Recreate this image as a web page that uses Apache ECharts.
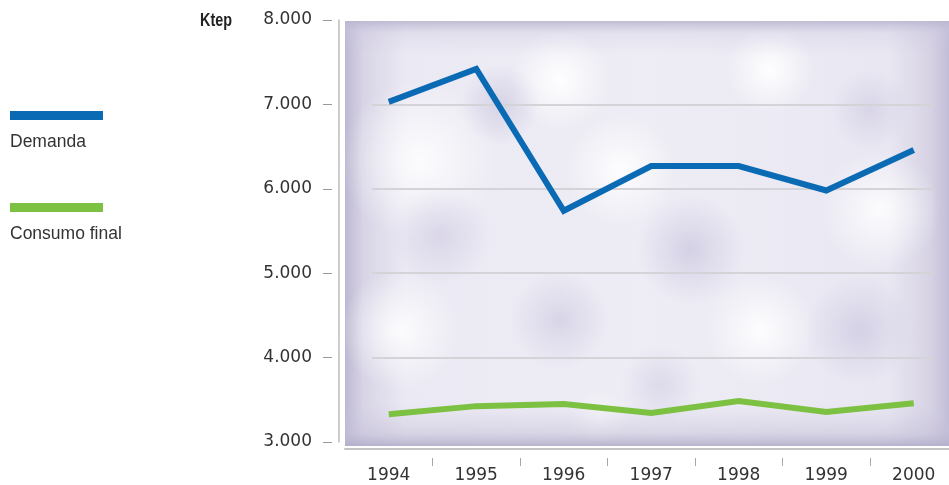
<!DOCTYPE html>
<html>
<head>
<meta charset="utf-8">
<script src="https://cdn.jsdelivr.net/npm/echarts@6/dist/echarts.min.js"></script>
<style>
html,body{margin:0;padding:0;background:#fff;}
#c{width:949px;height:485px;}
</style>
</head>
<body>
<div id="c"></div>
<script>
var years = ['1994','1995','1996','1997','1998','1999','2000'];
var demanda = [7030, 7420, 5740, 6270, 6270, 5980, 6460];
var consumoFinal = [3330, 3425, 3450, 3345, 3485, 3355, 3460];
var yTicks = [3000, 4000, 5000, 6000, 7000, 8000];
var seriesNames = ['Demanda', 'Consumo final'];
var seriesColors = ['#0b6ab4', '#7cc142'];
var unitLabel = 'Ktep';

var chart = echarts.init(document.getElementById('c'), null, {renderer: 'canvas'});
var axisFont = '"DejaVu Sans", sans-serif';
var legendFont = '"Liberation Sans", Arial, sans-serif';

function blob(cx, cy, rx, ry, rgb, a) {
  return {
    type: 'ellipse', z: -10, silent: true,
    shape: {cx: cx, cy: cy, rx: rx, ry: ry},
    style: {fill: new echarts.graphic.RadialGradient(0.5, 0.5, 0.5, [
      {offset: 0, color: 'rgba(' + rgb + ',' + a + ')'},
      {offset: 1, color: 'rgba(' + rgb + ',0)'}
    ])}
  };
}
var lav = '200,194,222', wh = '255,255,255';
var bg = [
  {type: 'rect', z: -12, silent: true, shape: {x: 345, y: 21, width: 604, height: 425},
   style: {fill: new echarts.graphic.LinearGradient(0, 0, 1, 0, [
     {offset: 0, color: '#bdb8d2'}, {offset: 0.03, color: '#d8d4e6'},
     {offset: 0.1, color: '#ebe9f3'}, {offset: 0.5, color: '#eeedf5'},
     {offset: 0.9, color: '#e9e7f2'}, {offset: 0.97, color: '#d6d2e4'}, {offset: 1, color: '#c2bdd6'}])}},
  blob(560, 80, 100, 50, wh, 0.95),
  blob(770, 70, 90, 45, wh, 0.95),
  blob(420, 160, 80, 90, wh, 0.85),
  blob(620, 170, 80, 55, wh, 0.9),
  blob(880, 210, 60, 80, wh, 0.85),
  blob(400, 330, 60, 60, wh, 0.85),
  blob(760, 330, 80, 55, wh, 0.9),
  blob(600, 420, 90, 30, wh, 0.6),
  blob(500, 105, 60, 40, lav, 0.6),
  blob(870, 110, 60, 40, lav, 0.5),
  blob(690, 250, 100, 55, lav, 0.65),
  blob(560, 320, 80, 50, lav, 0.55),
  blob(860, 330, 60, 55, lav, 0.6),
  blob(440, 235, 60, 50, lav, 0.5),
  blob(660, 385, 90, 40, lav, 0.45),
  {type: 'rect', z: -9, silent: true, shape: {x: 345, y: 21, width: 604, height: 425},
   style: {fill: new echarts.graphic.LinearGradient(0, 0, 0, 1, [
     {offset: 0, color: 'rgba(186,182,208,0.9)'}, {offset: 0.03, color: 'rgba(205,200,224,0.3)'},
     {offset: 0.08, color: 'rgba(205,200,224,0)'}, {offset: 0.9, color: 'rgba(205,200,224,0)'},
     {offset: 0.97, color: 'rgba(195,190,215,0.5)'}, {offset: 1, color: 'rgba(178,174,202,0.9)'}])}}
];

var overlay = [];
seriesNames.forEach(function (n, i) {
  var y0 = 111 + i * 92;
  overlay.push({type: 'rect', left: 10, top: y0, shape: {width: 93, height: 9}, style: {fill: seriesColors[i]}});
  overlay.push({type: 'text', left: 10, top: y0 + 22, style: {text: n, fill: '#333', font: '17.5px ' + legendFont}});
});
overlay.push({type: 'text', x: 232, y: 21, scaleX: 0.8, style: {text: unitLabel, fill: '#222', align: 'right', verticalAlign: 'middle',
  font: 'bold 18px "Liberation Sans", Arial, sans-serif'}});

var thousands = function (v) { return String(v).replace(/\B(?=(\d{3})+(?!\d))/g, '.'); };

chart.setOption({
  animation: false,
  graphic: bg.concat(overlay),
  grid: [
    {left: 345, top: 20, width: 612.5, height: 422, outerBoundsMode: 'none', containLabel: false},
    {left: 372, top: 20, width: 563, height: 422, outerBoundsMode: 'none', containLabel: false}
  ],
  xAxis: [
    {type: 'category', gridIndex: 0, data: years, boundaryGap: true, offset: 7,
     axisLine: {lineStyle: {color: '#c4c4c4', width: 2}}, axisTick: {show: false}, axisLabel: {show: false}},
    {type: 'category', gridIndex: 0, data: years, boundaryGap: true, offset: 16, position: 'bottom',
     axisLine: {show: false},
     axisTick: {show: true, length: 8, lineStyle: {color: '#aaa'}, interval: function (i) { return i !== 0; }},
     axisLabel: {margin: 9, color: '#333', fontSize: 17, fontFamily: axisFont}},
    {type: 'value', gridIndex: 1, min: 0, max: 1, show: false}
  ],
  yAxis: [
    {type: 'value', gridIndex: 0, min: yTicks[0], max: yTicks[yTicks.length - 1], interval: 1000, offset: 13,
     axisLine: {show: false}, axisTick: {show: true, length: 9, lineStyle: {color: '#999'}},
     splitLine: {show: false},
     axisLabel: {margin: 20, color: '#333', fontSize: 17, fontFamily: axisFont, formatter: thousands}},
    {type: 'value', gridIndex: 0, min: yTicks[0], max: yTicks[yTicks.length - 1], interval: 1000, offset: 6, position: 'left',
     axisLine: {show: true, lineStyle: {color: '#bdbdbd', width: 1.5}}, axisTick: {show: false}, axisLabel: {show: false}, splitLine: {show: false}},
    {type: 'value', gridIndex: 1, min: yTicks[0], max: yTicks[yTicks.length - 1], interval: 1000,
     axisLine: {show: false}, axisTick: {show: false}, axisLabel: {show: false},
     splitLine: {show: true, showMinLine: false, showMaxLine: false, lineStyle: {color: '#d4d4d8', width: 2}}}
  ],
  series: [
    {name: seriesNames[0], type: 'line', xAxisIndex: 0, yAxisIndex: 0, data: demanda, symbol: 'none',
     lineStyle: {color: seriesColors[0], width: 6, cap: 'butt', join: 'miter'}, z: 5},
    {name: seriesNames[1], type: 'line', xAxisIndex: 0, yAxisIndex: 0, data: consumoFinal, symbol: 'none',
     lineStyle: {color: seriesColors[1], width: 6, cap: 'butt', join: 'miter'}, z: 5}
  ]
});
</script>
</body>
</html>
